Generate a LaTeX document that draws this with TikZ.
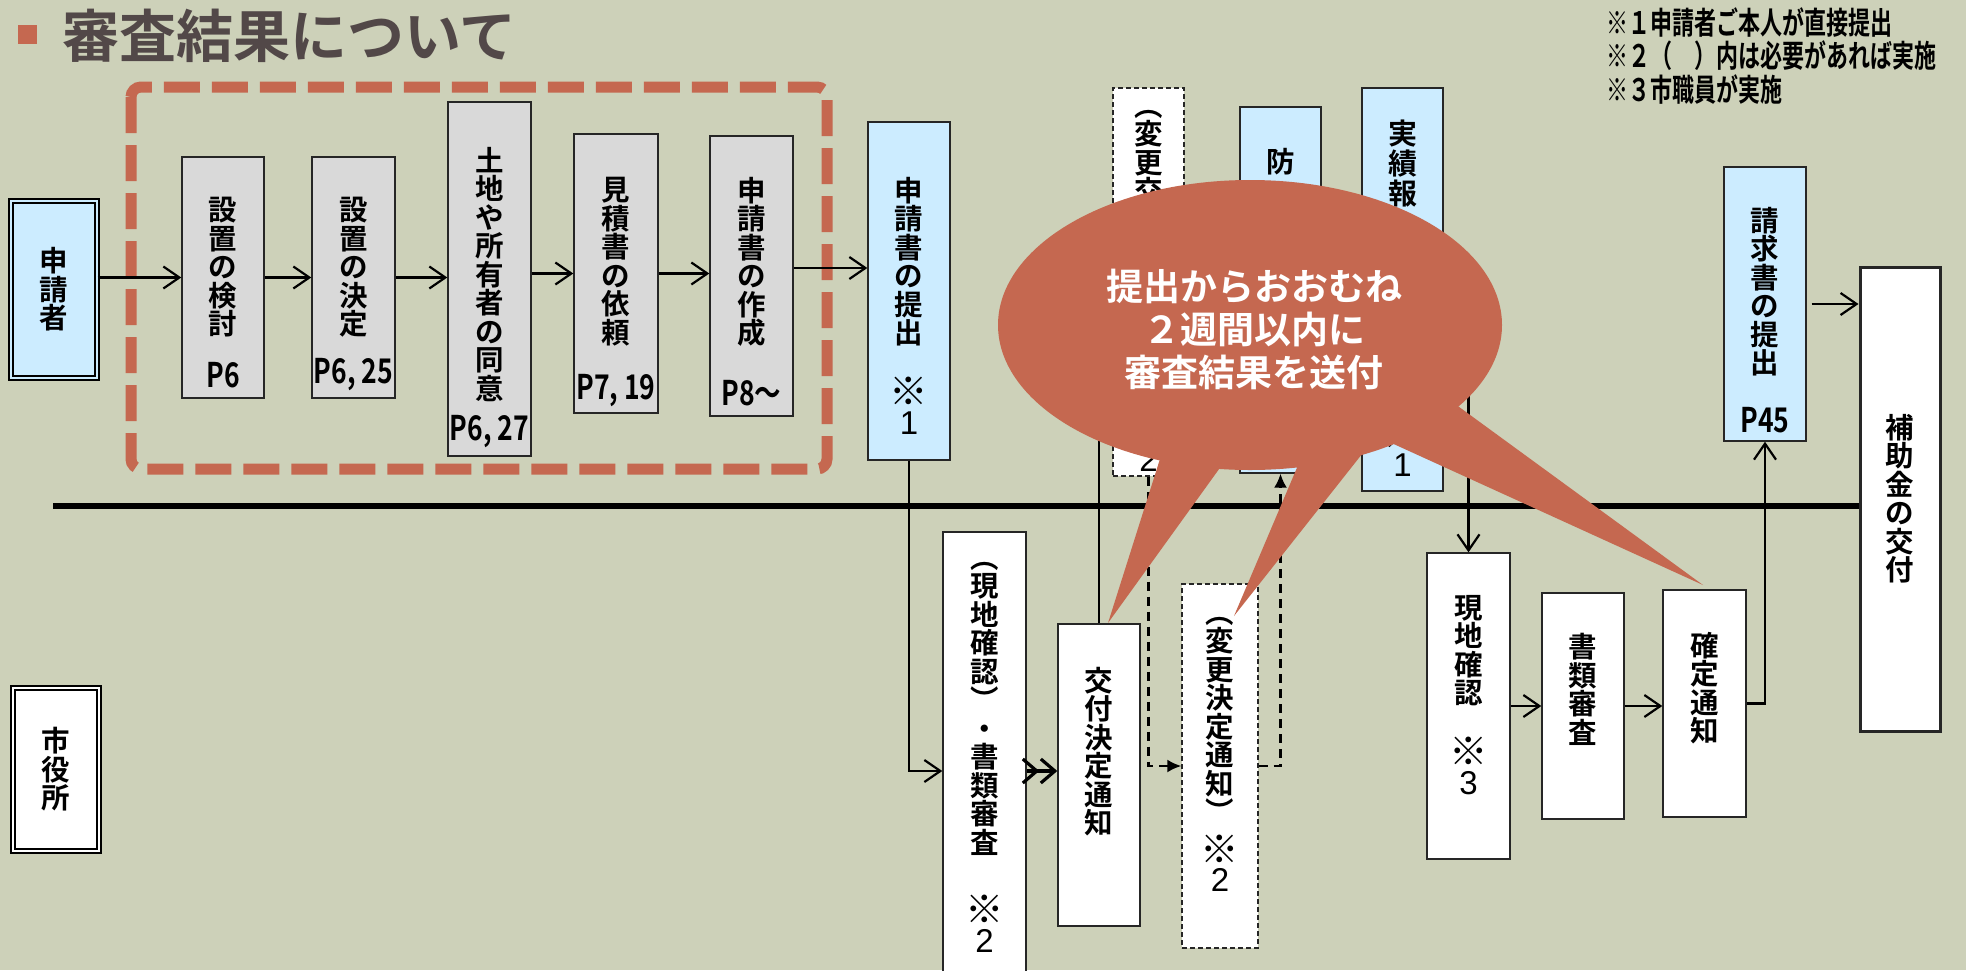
\documentclass[tikz,border=0pt]{standalone}
\usepackage{fontspec}
\usepackage{graphicx}
\newfontfamily\jpb{Noto Sans CJK JP Bold}
\newfontfamily\jpc{Noto Sans CJK JP Bold}[FakeStretch=0.78]
\newfontfamily\jpn{Noto Sans CJK JP Bold}[FakeStretch=0.71]
\newfontfamily\arialf{Liberation Sans}
\usetikzlibrary{arrows.meta}
\definecolor{bgc}{RGB}{205,209,185}
\definecolor{org}{RGB}{197,104,80}
\definecolor{lbl}{RGB}{204,236,255}
\definecolor{gry}{RGB}{217,217,217}
\definecolor{ttl}{RGB}{82,72,72}
\newcommand\bx[6][]{\node[#1, minimum width={#5-#3}, minimum height={#6-#4}] (#2) at ({(#3+#5)/2},{(#4+#6)/2}) {};}
\newcommand\km{\scalebox{1.35}{※}}
\newcommand\dg[1]{{\arialf\fontsize{33}{28.5}\selectfont #1}}
\begin{document}
\begin{tikzpicture}[x=1pt,y=-1pt,
  box/.style={draw=black!85, line width=1.4pt, inner sep=0pt},
  gbox/.style={box, fill=gry},
  bbox/.style={box, fill=lbl},
  wbox/.style={box, fill=white},
  dbox/.style={box, fill=white, dash pattern=on 5pt off 3pt},
  dblbox/.style={draw=black, line width=1.3pt, double distance=2.5pt, inner sep=0pt},
  vt/.style={font=\jpb\fontsize{28.5}{28.5}\selectfont, align=center, inner sep=0pt},
  pg/.style={font=\jpc\fontsize{34}{34}\selectfont, inner sep=0pt},
  arr/.style={line width=2.2pt, -{Straight Barb[length=16pt,width=22pt]}},
  darr/.style={line width=2.2pt, dash pattern=on 9pt off 6pt, -{Latex[length=14pt,width=13pt]}}]
\fill[bgc] (0,0) rectangle (1966,970);
\useasboundingbox (0,0) rectangle (1966,970);
% title
\node[fill=org, minimum size=19pt, inner sep=0pt] (sq) at (27,34) {};
\node[anchor=west, font=\jpb\fontsize{57}{57}\selectfont, text=ttl, inner sep=0pt] (title) at (62,36) {審査結果について};
\node[anchor=north west, font=\jpn\fontsize{31}{33.5}\selectfont, align=left, inner sep=0pt] (notes) at (1606,7)
  {※１申請者ご本人が直接提出\\※２（　）内は必要があれば実施\\※３市職員が実施};
% dashed frame
\draw[org, line width=11pt, dash pattern=on 36pt off 12pt, rounded corners=10pt] (131,87) rectangle (827,469);
% actors
\bx[dblbox, fill=lbl, double=lbl]{shinsei}{11}{201}{97}{378}
\node[vt] (shinseiT) at (shinsei) {申\\請\\者};
\bx[dblbox, fill=white, double=white]{shiyaku}{13}{688}{99}{851}
\node[vt] (shiyakuT) at (shiyaku) {市\\役\\所};
% gray steps
\bx[gbox]{kento}{182}{157}{264}{398}
\node[vt, anchor=north] (kentoT) at (223,197) {設\\置\\の\\検\\討};
\node[pg] (kentoP) at (223,375) {P6};
\bx[gbox]{kettei}{312}{157}{395}{398}
\node[vt, anchor=north] (ketteiT) at (353.5,197) {設\\置\\の\\決\\定};
\node[pg] (ketteiP) at (353.5,375) {P6, 25};
\bx[gbox]{tochi}{448}{102}{531}{456}
\node[vt, anchor=north] (tochiT) at (489.5,147) {土\\地\\や\\所\\有\\者\\の\\同\\意};
\node[pg] (tochiP) at (489.5,432) {P6, 27};
\bx[gbox]{mitsu}{574}{134}{658}{413}
\node[vt, anchor=north] (mitsuT) at (616,177) {見\\積\\書\\の\\依\\頼};
\node[pg] (mitsuP) at (616,391) {P7, 19};
\bx[gbox]{sakusei}{710}{136}{793}{416}
\node[vt, anchor=north] (sakuseiT) at (751.5,177) {申\\請\\書\\の\\作\\成};
\node[pg] (sakuseiP) at (751.5,393) {P8～};
% applicant boxes above line
\bx[bbox]{teishutsu}{868}{122}{950}{460}
\node[vt, anchor=north] (teishutsuT) at (909,177) {申\\請\\書\\の\\提\\出\\[30pt]\km\\\dg{1}};
\bx[dbox]{henko}{1113}{88}{1184}{476}
\node[vt, anchor=north] (henkoT) at (1148.5,110) {︵\\変\\更\\交};
\node[vt, anchor=south] (henkoN) at (1148.5,472) {\km\\\dg{2}};
\bx[bbox]{bou}{1240}{107}{1321}{473}
\node[vt, anchor=north] (bouT) at (1280.5,148) {防};
\bx[bbox]{jisseki}{1362}{88}{1443}{491}
\node[vt, anchor=north, font=\jpb\fontsize{29}{30}\selectfont] (jissekiT) at (1402.5,120) {実\\績\\報};
\node[vt, anchor=south] (jissekiN) at (1402.5,477) {\km\\\dg{1}};
\bx[bbox]{seikyu}{1724}{167}{1806}{441}
\node[vt, anchor=north] (seikyuT) at (1765,207) {請\\求\\書\\の\\提\\出};
\node[pg] (seikyuP) at (1765,420) {P45};
\bx[wbox, line width=3pt]{hojo}{1860}{267}{1940}{731}
\node[vt, anchor=north] (hojoT) at (1900,414) {補\\助\\金\\の\\交\\付};
% city boxes below line
\bx[wbox]{gs}{943}{532}{1026}{1010}
\node[vt, anchor=north] (gsT) at (984.5,562) {︵\\現\\地\\確\\認\\︶\\・\\書\\類\\審\\査\\[39pt]\km\\\dg{2}};
\bx[wbox]{koufu}{1058}{624}{1140}{926}
\node[vt, anchor=north] (koufuT) at (1099,667) {交\\付\\決\\定\\通\\知};
\bx[dbox]{henkoK}{1182}{584}{1258}{948}
\node[vt, anchor=north] (henkoKT) at (1220,617) {︵\\変\\更\\決\\定\\通\\知\\︶\\[12pt]\km\\\dg{2}};
\bx[wbox]{genchi}{1427}{553}{1510}{859}
\node[vt, anchor=north] (genchiT) at (1468.5,595) {現\\地\\確\\認\\[30pt]\km\\\dg{3}};
\bx[wbox]{shorui}{1542}{593}{1624}{819}
\node[vt, anchor=north] (shoruiT) at (1583,633) {書\\類\\審\\査};
\bx[wbox]{kakutei}{1663}{590}{1746}{817}
\node[vt, anchor=north] (kakuteiT) at (1704.5,632) {確\\定\\通\\知};
% main line
\coordinate (L0) at (53,506);
\draw[line width=6pt] (L0) -- (L0 -| hojo.west);
% connectors
\draw[arr] (shinsei.east |- kento.west) -- (kento.west);
\draw[arr] (kento.east) -- (kento.east -| kettei.west);
\draw[arr] (kettei.east) -- (kettei.east -| tochi.west);
\draw[arr] (tochi.east |- mitsu.west) -- (mitsu.west);
\draw[arr] (mitsu.east) -- (mitsu.east -| sakusei.west);
\draw[arr] ([yshift=8pt]sakusei.east) -- ([yshift=8pt]sakusei.east -| teishutsu.west);
\draw[arr] (teishutsu.south) |- (gs.west);
\draw[line width=3.2pt, -{Straight Barb[length=14pt,width=24pt]Straight Barb[length=14pt,width=24pt]}] (gs.east) -- (gs.east -| koufu.west);
\draw[line width=1.8pt, -{Straight Barb[length=16pt,width=22pt]}] (koufu.north) |- (henko.west);
\draw[darr] (henko.south) |- (henkoK.west);
\draw[darr] (henkoK.east) -| (bou.south);
\draw[arr] (bou.east) -- (bou.east -| jisseki.west);
\draw[arr] (jisseki.east) -| (genchi.north);
\draw[arr] (genchi.east) -- (genchi.east -| shorui.west);
\draw[arr] (shorui.east) -- (shorui.east -| kakutei.west);
\draw[arr] (kakutei.east) -| (seikyu.south);
\draw[arr] ([xshift=5pt]seikyu.east) -- (seikyu.east -| hojo.west);
% balloon
\fill[org] (1250,325) ellipse [x radius=252, y radius=145];
\fill[org] (1108,623) -- (1166,440) -- (1240,440) -- cycle;
\fill[org] (1234,616) -- (1313,430) -- (1381,430) -- cycle;
\fill[org] (1703,585) -- (1440,393) -- (1330,415) -- cycle;
\node[font=\jpb\fontsize{37}{43}\selectfont, text=white, align=center, inner sep=0pt] (msg) at (1254,329)
  {提出からおおむね\\２週間以内に\\審査結果を送付};
\end{tikzpicture}
\end{document}
